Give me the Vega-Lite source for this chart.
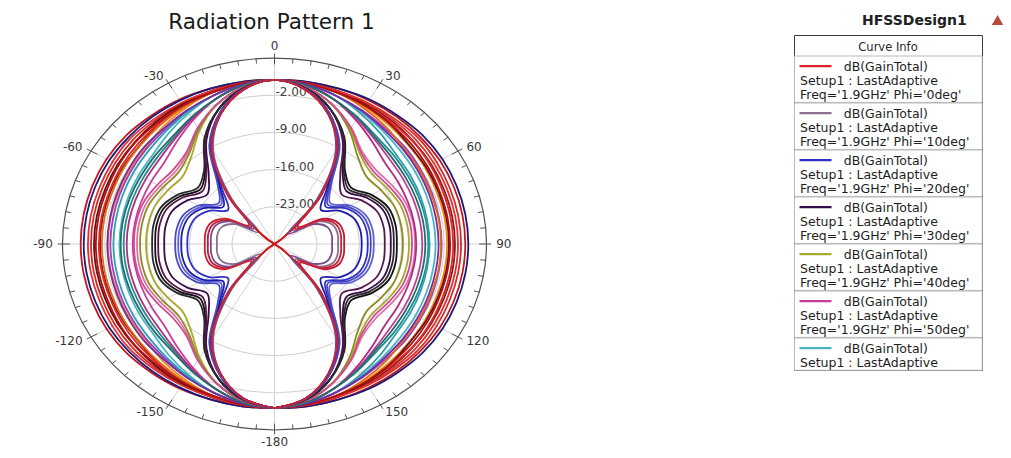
{
  "$schema": "https://vega.github.io/schema/vega-lite/v6.json",
  "width": 1011,
  "height": 458,
  "autosize": {"type": "none"},
  "padding": 0,
  "background": "white",
  "config": {"view": {"stroke": null}, "font": "DejaVu Sans"},
  "title": {
    "text": "Radiation Pattern 1",
    "frame": "group",
    "anchor": "middle",
    "dx": -234,
    "offset": -33,
    "font": "DejaVu Sans",
    "fontSize": 21.5,
    "fontWeight": "normal",
    "color": "#1a1a1a"
  },
  "datasets": {
    "rings": [
      {"level": -23, "theta": [-180,-170,-160,-150,-140,-130,-120,-110,-100,-90,-80,-70,-60,-50,-40,-30,-20,-10,0,10,20,30,40,50,60,70,80,90,100,110,120,130,140,150,160,170,180]},
      {"level": -16, "theta": [-180,-170,-160,-150,-140,-130,-120,-110,-100,-90,-80,-70,-60,-50,-40,-30,-20,-10,0,10,20,30,40,50,60,70,80,90,100,110,120,130,140,150,160,170,180]},
      {"level": -9, "theta": [-180,-170,-160,-150,-140,-130,-120,-110,-100,-90,-80,-70,-60,-50,-40,-30,-20,-10,0,10,20,30,40,50,60,70,80,90,100,110,120,130,140,150,160,170,180]},
      {"level": -2, "theta": [-180,-170,-160,-150,-140,-130,-120,-110,-100,-90,-80,-70,-60,-50,-40,-30,-20,-10,0,10,20,30,40,50,60,70,80,90,100,110,120,130,140,150,160,170,180]},
      {"level": 5, "theta": [-180,-170,-160,-150,-140,-130,-120,-110,-100,-90,-80,-70,-60,-50,-40,-30,-20,-10,0,10,20,30,40,50,60,70,80,90,100,110,120,130,140,150,160,170,180]}
    ],
    "spokes": [{"theta": 0}, {"theta": 30}, {"theta": 60}, {"theta": 90}, {"theta": 120}, {"theta": 150}],
    "ticks": [
      {"theta": -175},{"theta": -170},{"theta": -165},{"theta": -160},{"theta": -155},{"theta": -150},{"theta": -145},{"theta": -140},{"theta": -135},{"theta": -130},{"theta": -125},{"theta": -120},
      {"theta": -115},{"theta": -110},{"theta": -105},{"theta": -100},{"theta": -95},{"theta": -90},{"theta": -85},{"theta": -80},{"theta": -75},{"theta": -70},{"theta": -65},{"theta": -60},
      {"theta": -55},{"theta": -50},{"theta": -45},{"theta": -40},{"theta": -35},{"theta": -30},{"theta": -25},{"theta": -20},{"theta": -15},{"theta": -10},{"theta": -5},{"theta": 0},
      {"theta": 5},{"theta": 10},{"theta": 15},{"theta": 20},{"theta": 25},{"theta": 30},{"theta": 35},{"theta": 40},{"theta": 45},{"theta": 50},{"theta": 55},{"theta": 60},
      {"theta": 65},{"theta": 70},{"theta": 75},{"theta": 80},{"theta": 85},{"theta": 90},{"theta": 95},{"theta": 100},{"theta": 105},{"theta": 110},{"theta": 115},{"theta": 120},
      {"theta": 125},{"theta": 130},{"theta": 135},{"theta": 140},{"theta": 145},{"theta": 150},{"theta": 155},{"theta": 160},{"theta": 165},{"theta": 170},{"theta": 175},{"theta": 180}
    ],
    "angleLabels": [{"theta": -180},{"theta": -150},{"theta": -120},{"theta": -90},{"theta": -60},{"theta": -30},{"theta": 0},{"theta": 30},{"theta": 60},{"theta": 90},{"theta": 120},{"theta": 150}],
    "radialLabels": [{"gain": -2, "label": "-2.00"}, {"gain": -9, "label": "-9.00"}, {"gain": -16, "label": "-16.00"}, {"gain": -23, "label": "-23.00"}],
    "curves": [
      {"phi": "Phi0", "design": "HFSSDesign1", "theta": [-180,-170,-160,-150,-140,-130,-120,-110,-100,-90,-80,-70,-60,-50,-40,-30,-20,-10,0,10,20,30,40,50,60,70,80,90,100,110,120,130,140,150,160,170,180], "gain": [0.9,-0.5,-4,-9.5,-19,-28,-35,-35,-35,-35,-35,-35,-35,-27.5,-19,-9.5,-4,-0.5,0.9,-0.5,-4,-9.5,-19,-28,-35,-35,-35,-35,-35,-35,-35,-27.5,-19,-9.5,-4,-0.5,0.9]},
      {"phi": "Phi10", "design": "HFSSDesign1", "theta": [-180,-170,-160,-150,-140,-130,-120,-110,-100,-90,-80,-70,-60,-50,-40,-30,-20,-10,0,10,20,30,40,50,60,70,80,90,100,110,120,130,140,150,160,170,180], "gain": [0.9,-0.5,-4,-9.8,-19.1,-27,-22.5,-20.7,-20.4,-20.5,-20.4,-20.7,-22.5,-26.5,-19.1,-9.8,-4,-0.5,0.9,-0.5,-4,-9.5,-18.5,-26,-21.5,-19.7,-19.4,-19.5,-19.4,-19.7,-21.5,-25.5,-18.5,-9.5,-4,-0.5,0.9]},
      {"phi": "Phi20", "design": "HFSSDesign1", "theta": [-180,-170,-160,-150,-140,-130,-120,-110,-100,-90,-80,-70,-60,-50,-40,-30,-20,-10,0,10,20,30,40,50,60,70,80,90,100,110,120,130,140,150,160,170,180], "gain": [0.9,-0.4,-3.7,-9.1,-16.6,-20,-17.5,-16,-15.6,-15.6,-15.6,-16,-17.5,-20,-16.6,-9.1,-3.7,-0.4,0.9,-0.4,-3.7,-8.8,-16,-19,-16.5,-15,-14.6,-14.6,-14.6,-15,-16.5,-19,-16,-8.8,-3.7,-0.4,0.9]},
      {"phi": "Phi30", "design": "HFSSDesign1", "theta": [-180,-170,-160,-150,-140,-130,-120,-110,-100,-90,-80,-70,-60,-50,-40,-30,-20,-10,0,10,20,30,40,50,60,70,80,90,100,110,120,130,140,150,160,170,180], "gain": [0.9,-0.2,-3,-7.5,-13.1,-15.5,-13.5,-12,-11.7,-11.8,-11.7,-12,-13.5,-15.5,-13.1,-7.5,-3,-0.2,0.9,-0.2,-3,-7.2,-12.5,-14.5,-12.5,-11,-10.7,-10.8,-10.7,-11,-12.5,-14.5,-12.5,-7.2,-3,-0.2,0.9]},
      {"phi": "Phi40", "design": "HFSSDesign1", "theta": [-180,-170,-160,-150,-140,-130,-120,-110,-100,-90,-80,-70,-60,-50,-40,-30,-20,-10,0,10,20,30,40,50,60,70,80,90,100,110,120,130,140,150,160,170,180], "gain": [0.9,0,-2.1,-5.3,-8.6,-10.2,-9.7,-9,-8.8,-8.8,-8.8,-9,-9.7,-10.2,-8.6,-5.3,-2.1,0,0.9,0,-2.1,-5,-8,-9.2,-8.7,-8,-7.8,-7.8,-7.8,-8,-8.7,-9.2,-8,-5,-2.1,0,0.9]},
      {"phi": "Phi50", "design": "HFSSDesign1", "theta": [-180,-170,-160,-150,-140,-130,-120,-110,-100,-90,-80,-70,-60,-50,-40,-30,-20,-10,0,10,20,30,40,50,60,70,80,90,100,110,120,130,140,150,160,170,180], "gain": [0.9,0.3,-1.1,-3.1,-4.9,-6.2,-6.5,-6.6,-6.6,-6.6,-6.6,-6.6,-6.5,-6.2,-4.9,-3.1,-1.1,0.3,0.9,0.3,-1.1,-2.8,-4.3,-5.2,-5.5,-5.6,-5.6,-5.6,-5.6,-5.6,-5.5,-5.2,-4.3,-2.8,-1.1,0.3,0.9]},
      {"phi": "Phi60", "design": "HFSSDesign1", "theta": [-180,-170,-160,-150,-140,-130,-120,-110,-100,-90,-80,-70,-60,-50,-40,-30,-20,-10,0,10,20,30,40,50,60,70,80,90,100,110,120,130,140,150,160,170,180], "gain": [0.9,0.5,-0.3,-1.6,-2.8,-3.8,-4.1,-4.3,-4.4,-4.4,-4.4,-4.3,-4.1,-3.8,-2.8,-1.6,-0.3,0.5,0.9,0.5,-0.3,-1.3,-2.2,-2.8,-3.1,-3.3,-3.4,-3.4,-3.4,-3.3,-3.1,-2.8,-2.2,-1.3,-0.3,0.5,0.9]},
      {"phi": "Phi70", "design": "HFSSDesign1", "theta": [-180,-170,-160,-150,-140,-130,-120,-110,-100,-90,-80,-70,-60,-50,-40,-30,-20,-10,0,10,20,30,40,50,60,70,80,90,100,110,120,130,140,150,160,170,180], "gain": [0.9,0.7,0.3,-0.5,-1.3,-2.1,-2.3,-2.5,-2.5,-2.5,-2.5,-2.5,-2.3,-2.1,-1.3,-0.5,0.3,0.7,0.9,0.7,0.3,-0.2,-0.7,-1.1,-1.3,-1.5,-1.5,-1.5,-1.5,-1.5,-1.3,-1.1,-0.7,-0.2,0.3,0.7,0.9]},
      {"phi": "Phi80", "design": "HFSSDesign1", "theta": [-180,-170,-160,-150,-140,-130,-120,-110,-100,-90,-80,-70,-60,-50,-40,-30,-20,-10,0,10,20,30,40,50,60,70,80,90,100,110,120,130,140,150,160,170,180], "gain": [0.9,0.8,0.6,0.1,-0.4,-1,-1.1,-1.2,-1.2,-1.2,-1.2,-1.2,-1.1,-1,-0.4,0.1,0.6,0.8,0.9,0.8,0.6,0.4,0.2,0,-0.1,-0.2,-0.2,-0.2,-0.2,-0.2,-0.1,0,0.2,0.4,0.6,0.8,0.9]},
      {"phi": "Phi90", "design": "HFSSDesign1", "theta": [-180,-170,-160,-150,-140,-130,-120,-110,-100,-90,-80,-70,-60,-50,-40,-30,-20,-10,0,10,20,30,40,50,60,70,80,90,100,110,120,130,140,150,160,170,180], "gain": [0.9,1,1.1,1.4,1.6,1.9,2,2,2,2,2,2,2,1.9,1.6,1.4,1.1,1,0.9,1,1.1,1.2,1.3,1.4,1.5,1.5,1.5,1.5,1.5,1.5,1.5,1.4,1.3,1.2,1.1,1,0.9]},
      {"phi": "Phi100", "design": "HFSSDesign1", "theta": [-180,-170,-160,-150,-140,-130,-120,-110,-100,-90,-80,-70,-60,-50,-40,-30,-20,-10,0,10,20,30,40,50,60,70,80,90,100,110,120,130,140,150,160,170,180], "gain": [0.9,0.8,0.6,0.6,0.5,0.5,0.4,0.3,0.3,0.3,0.3,0.3,0.4,0.5,0.5,0.6,0.6,0.8,0.9,0.8,0.6,0.7,0.8,1,0.9,0.8,0.8,0.8,0.8,0.8,0.9,1,0.8,0.7,0.6,0.8,0.9]},
      {"phi": "Phi110", "design": "HFSSDesign1", "theta": [-180,-170,-160,-150,-140,-130,-120,-110,-100,-90,-80,-70,-60,-50,-40,-30,-20,-10,0,10,20,30,40,50,60,70,80,90,100,110,120,130,140,150,160,170,180], "gain": [0.9,0.7,0.3,0,-0.4,-0.6,-0.8,-1,-1,-1,-1,-1,-0.8,-0.6,-0.4,0,0.3,0.7,0.9,0.7,0.3,0.1,-0.1,-0.1,-0.3,-0.5,-0.5,-0.5,-0.5,-0.5,-0.3,-0.1,-0.1,0.1,0.3,0.7,0.9]},
      {"phi": "Phi120", "design": "HFSSDesign1", "theta": [-180,-170,-160,-150,-140,-130,-120,-110,-100,-90,-80,-70,-60,-50,-40,-30,-20,-10,0,10,20,30,40,50,60,70,80,90,100,110,120,130,140,150,160,170,180], "gain": [0.9,0.5,-0.3,-1.1,-1.9,-2.3,-2.6,-2.8,-2.9,-2.9,-2.9,-2.8,-2.6,-2.3,-1.9,-1.1,-0.3,0.5,0.9,0.5,-0.3,-1,-1.6,-1.8,-2.1,-2.3,-2.4,-2.4,-2.4,-2.3,-2.1,-1.8,-1.6,-1,-0.3,0.5,0.9]},
      {"phi": "Phi130", "design": "HFSSDesign1", "theta": [-180,-170,-160,-150,-140,-130,-120,-110,-100,-90,-80,-70,-60,-50,-40,-30,-20,-10,0,10,20,30,40,50,60,70,80,90,100,110,120,130,140,150,160,170,180], "gain": [0.9,0.3,-1.1,-2.6,-4,-4.7,-5,-5.1,-5.1,-5.1,-5.1,-5.1,-5,-4.7,-4,-2.6,-1.1,0.3,0.9,0.3,-1.1,-2.5,-3.7,-4.2,-4.5,-4.6,-4.6,-4.6,-4.6,-4.6,-4.5,-4.2,-3.7,-2.5,-1.1,0.3,0.9]},
      {"phi": "Phi140", "design": "HFSSDesign1", "theta": [-180,-170,-160,-150,-140,-130,-120,-110,-100,-90,-80,-70,-60,-50,-40,-30,-20,-10,0,10,20,30,40,50,60,70,80,90,100,110,120,130,140,150,160,170,180], "gain": [0.9,0,-2.1,-4.8,-7.7,-8.7,-8.2,-7.5,-7.3,-7.3,-7.3,-7.5,-8.2,-8.7,-7.7,-4.8,-2.1,0,0.9,0,-2.1,-4.7,-7.4,-8.2,-7.7,-7,-6.8,-6.8,-6.8,-7,-7.7,-8.2,-7.4,-4.7,-2.1,0,0.9]},
      {"phi": "Phi150", "design": "HFSSDesign1", "theta": [-180,-170,-160,-150,-140,-130,-120,-110,-100,-90,-80,-70,-60,-50,-40,-30,-20,-10,0,10,20,30,40,50,60,70,80,90,100,110,120,130,140,150,160,170,180], "gain": [0.9,-0.2,-3,-7,-12.2,-14,-12,-10.5,-10.2,-10.3,-10.2,-10.5,-12,-14,-12.2,-7,-3,-0.2,0.9,-0.2,-3,-6.9,-11.9,-13.5,-11.5,-10,-9.7,-9.8,-9.7,-10,-11.5,-13.5,-11.9,-6.9,-3,-0.2,0.9]},
      {"phi": "Phi160", "design": "HFSSDesign1", "theta": [-180,-170,-160,-150,-140,-130,-120,-110,-100,-90,-80,-70,-60,-50,-40,-30,-20,-10,0,10,20,30,40,50,60,70,80,90,100,110,120,130,140,150,160,170,180], "gain": [0.9,-0.4,-3.7,-8.6,-15.7,-18.5,-16,-14.5,-14.1,-14.1,-14.1,-14.5,-16,-18.5,-15.7,-8.6,-3.7,-0.4,0.9,-0.4,-3.7,-8.5,-15.4,-18,-15.5,-14,-13.6,-13.6,-13.6,-14,-15.5,-18,-15.4,-8.5,-3.7,-0.4,0.9]},
      {"phi": "Phi170", "design": "HFSSDesign1", "theta": [-180,-170,-160,-150,-140,-130,-120,-110,-100,-90,-80,-70,-60,-50,-40,-30,-20,-10,0,10,20,30,40,50,60,70,80,90,100,110,120,130,140,150,160,170,180], "gain": [0.9,-0.5,-4,-9.3,-18.2,-25.5,-21,-19.2,-18.9,-19,-18.9,-19.2,-21,-25,-18.2,-9.3,-4,-0.5,0.9,-0.5,-4,-9.2,-17.9,-25,-20.5,-18.7,-18.4,-18.5,-18.4,-18.7,-20.5,-24.5,-17.9,-9.2,-4,-0.5,0.9]},
      {"phi": "Phi180", "design": "HFSSDesign1", "theta": [-180,-170,-160,-150,-140,-130,-120,-110,-100,-90,-80,-70,-60,-50,-40,-30,-20,-10,0,10,20,30,40,50,60,70,80,90,100,110,120,130,140,150,160,170,180], "gain": [0.9,-0.5,-4,-9.2,-18.5,-28,-35,-35,-35,-35,-35,-35,-35,-27.5,-18.5,-9.2,-4,-0.5,0.9,-0.5,-4,-9.2,-18.5,-28,-35,-35,-35,-35,-35,-35,-35,-27.5,-18.5,-9.2,-4,-0.5,0.9]},
      {"phi": "Phi190", "design": "HFSSDesign1", "theta": [-180,-170,-160,-150,-140,-130,-120,-110,-100,-90,-80,-70,-60,-50,-40,-30,-20,-10,0,10,20,30,40,50,60,70,80,90,100,110,120,130,140,150,160,170,180], "gain": [0.9,-0.5,-4,-9.5,-18.5,-26,-21.5,-19.7,-19.4,-19.5,-19.4,-19.7,-21.5,-25.5,-18.5,-9.5,-4,-0.5,0.9,-0.5,-4,-9.8,-19.1,-27,-22.5,-20.7,-20.4,-20.5,-20.4,-20.7,-22.5,-26.5,-19.1,-9.8,-4,-0.5,0.9]},
      {"phi": "Phi200", "design": "HFSSDesign1", "theta": [-180,-170,-160,-150,-140,-130,-120,-110,-100,-90,-80,-70,-60,-50,-40,-30,-20,-10,0,10,20,30,40,50,60,70,80,90,100,110,120,130,140,150,160,170,180], "gain": [0.9,-0.4,-3.7,-8.8,-16,-19,-16.5,-15,-14.6,-14.6,-14.6,-15,-16.5,-19,-16,-8.8,-3.7,-0.4,0.9,-0.4,-3.7,-9.1,-16.6,-20,-17.5,-16,-15.6,-15.6,-15.6,-16,-17.5,-20,-16.6,-9.1,-3.7,-0.4,0.9]},
      {"phi": "Phi210", "design": "HFSSDesign1", "theta": [-180,-170,-160,-150,-140,-130,-120,-110,-100,-90,-80,-70,-60,-50,-40,-30,-20,-10,0,10,20,30,40,50,60,70,80,90,100,110,120,130,140,150,160,170,180], "gain": [0.9,-0.2,-3,-7.2,-12.5,-14.5,-12.5,-11,-10.7,-10.8,-10.7,-11,-12.5,-14.5,-12.5,-7.2,-3,-0.2,0.9,-0.2,-3,-7.5,-13.1,-15.5,-13.5,-12,-11.7,-11.8,-11.7,-12,-13.5,-15.5,-13.1,-7.5,-3,-0.2,0.9]},
      {"phi": "Phi220", "design": "HFSSDesign1", "theta": [-180,-170,-160,-150,-140,-130,-120,-110,-100,-90,-80,-70,-60,-50,-40,-30,-20,-10,0,10,20,30,40,50,60,70,80,90,100,110,120,130,140,150,160,170,180], "gain": [0.9,0,-2.1,-5,-8,-9.2,-8.7,-8,-7.8,-7.8,-7.8,-8,-8.7,-9.2,-8,-5,-2.1,0,0.9,0,-2.1,-5.3,-8.6,-10.2,-9.7,-9,-8.8,-8.8,-8.8,-9,-9.7,-10.2,-8.6,-5.3,-2.1,0,0.9]},
      {"phi": "Phi230", "design": "HFSSDesign1", "theta": [-180,-170,-160,-150,-140,-130,-120,-110,-100,-90,-80,-70,-60,-50,-40,-30,-20,-10,0,10,20,30,40,50,60,70,80,90,100,110,120,130,140,150,160,170,180], "gain": [0.9,0.3,-1.1,-2.8,-4.3,-5.2,-5.5,-5.6,-5.6,-5.6,-5.6,-5.6,-5.5,-5.2,-4.3,-2.8,-1.1,0.3,0.9,0.3,-1.1,-3.1,-4.9,-6.2,-6.5,-6.6,-6.6,-6.6,-6.6,-6.6,-6.5,-6.2,-4.9,-3.1,-1.1,0.3,0.9]},
      {"phi": "Phi240", "design": "HFSSDesign1", "theta": [-180,-170,-160,-150,-140,-130,-120,-110,-100,-90,-80,-70,-60,-50,-40,-30,-20,-10,0,10,20,30,40,50,60,70,80,90,100,110,120,130,140,150,160,170,180], "gain": [0.9,0.5,-0.3,-1.3,-2.2,-2.8,-3.1,-3.3,-3.4,-3.4,-3.4,-3.3,-3.1,-2.8,-2.2,-1.3,-0.3,0.5,0.9,0.5,-0.3,-1.6,-2.8,-3.8,-4.1,-4.3,-4.4,-4.4,-4.4,-4.3,-4.1,-3.8,-2.8,-1.6,-0.3,0.5,0.9]},
      {"phi": "Phi250", "design": "HFSSDesign1", "theta": [-180,-170,-160,-150,-140,-130,-120,-110,-100,-90,-80,-70,-60,-50,-40,-30,-20,-10,0,10,20,30,40,50,60,70,80,90,100,110,120,130,140,150,160,170,180], "gain": [0.9,0.7,0.3,-0.2,-0.7,-1.1,-1.3,-1.5,-1.5,-1.5,-1.5,-1.5,-1.3,-1.1,-0.7,-0.2,0.3,0.7,0.9,0.7,0.3,-0.5,-1.3,-2.1,-2.3,-2.5,-2.5,-2.5,-2.5,-2.5,-2.3,-2.1,-1.3,-0.5,0.3,0.7,0.9]},
      {"phi": "Phi260", "design": "HFSSDesign1", "theta": [-180,-170,-160,-150,-140,-130,-120,-110,-100,-90,-80,-70,-60,-50,-40,-30,-20,-10,0,10,20,30,40,50,60,70,80,90,100,110,120,130,140,150,160,170,180], "gain": [0.9,0.8,0.6,0.4,0.2,0,-0.1,-0.2,-0.2,-0.2,-0.2,-0.2,-0.1,0,0.2,0.4,0.6,0.8,0.9,0.8,0.6,0.1,-0.4,-1,-1.1,-1.2,-1.2,-1.2,-1.2,-1.2,-1.1,-1,-0.4,0.1,0.6,0.8,0.9]},
      {"phi": "Phi270", "design": "HFSSDesign1", "theta": [-180,-170,-160,-150,-140,-130,-120,-110,-100,-90,-80,-70,-60,-50,-40,-30,-20,-10,0,10,20,30,40,50,60,70,80,90,100,110,120,130,140,150,160,170,180], "gain": [0.9,1,1.1,1.2,1.3,1.4,1.5,1.5,1.5,1.5,1.5,1.5,1.5,1.4,1.3,1.2,1.1,1,0.9,1,1.1,1.4,1.6,1.9,2,2,2,2,2,2,2,1.9,1.6,1.4,1.1,1,0.9]},
      {"phi": "Phi280", "design": "HFSSDesign1", "theta": [-180,-170,-160,-150,-140,-130,-120,-110,-100,-90,-80,-70,-60,-50,-40,-30,-20,-10,0,10,20,30,40,50,60,70,80,90,100,110,120,130,140,150,160,170,180], "gain": [0.9,0.8,0.6,0.7,0.8,1,0.9,0.8,0.8,0.8,0.8,0.8,0.9,1,0.8,0.7,0.6,0.8,0.9,0.8,0.6,0.6,0.5,0.5,0.4,0.3,0.3,0.3,0.3,0.3,0.4,0.5,0.5,0.6,0.6,0.8,0.9]},
      {"phi": "Phi290", "design": "HFSSDesign1", "theta": [-180,-170,-160,-150,-140,-130,-120,-110,-100,-90,-80,-70,-60,-50,-40,-30,-20,-10,0,10,20,30,40,50,60,70,80,90,100,110,120,130,140,150,160,170,180], "gain": [0.9,0.7,0.3,0.1,-0.1,-0.1,-0.3,-0.5,-0.5,-0.5,-0.5,-0.5,-0.3,-0.1,-0.1,0.1,0.3,0.7,0.9,0.7,0.3,0,-0.4,-0.6,-0.8,-1,-1,-1,-1,-1,-0.8,-0.6,-0.4,0,0.3,0.7,0.9]},
      {"phi": "Phi300", "design": "HFSSDesign1", "theta": [-180,-170,-160,-150,-140,-130,-120,-110,-100,-90,-80,-70,-60,-50,-40,-30,-20,-10,0,10,20,30,40,50,60,70,80,90,100,110,120,130,140,150,160,170,180], "gain": [0.9,0.5,-0.3,-1,-1.6,-1.8,-2.1,-2.3,-2.4,-2.4,-2.4,-2.3,-2.1,-1.8,-1.6,-1,-0.3,0.5,0.9,0.5,-0.3,-1.1,-1.9,-2.3,-2.6,-2.8,-2.9,-2.9,-2.9,-2.8,-2.6,-2.3,-1.9,-1.1,-0.3,0.5,0.9]},
      {"phi": "Phi310", "design": "HFSSDesign1", "theta": [-180,-170,-160,-150,-140,-130,-120,-110,-100,-90,-80,-70,-60,-50,-40,-30,-20,-10,0,10,20,30,40,50,60,70,80,90,100,110,120,130,140,150,160,170,180], "gain": [0.9,0.3,-1.1,-2.5,-3.7,-4.2,-4.5,-4.6,-4.6,-4.6,-4.6,-4.6,-4.5,-4.2,-3.7,-2.5,-1.1,0.3,0.9,0.3,-1.1,-2.6,-4,-4.7,-5,-5.1,-5.1,-5.1,-5.1,-5.1,-5,-4.7,-4,-2.6,-1.1,0.3,0.9]},
      {"phi": "Phi320", "design": "HFSSDesign1", "theta": [-180,-170,-160,-150,-140,-130,-120,-110,-100,-90,-80,-70,-60,-50,-40,-30,-20,-10,0,10,20,30,40,50,60,70,80,90,100,110,120,130,140,150,160,170,180], "gain": [0.9,0,-2.1,-4.7,-7.4,-8.2,-7.7,-7,-6.8,-6.8,-6.8,-7,-7.7,-8.2,-7.4,-4.7,-2.1,0,0.9,0,-2.1,-4.8,-7.7,-8.7,-8.2,-7.5,-7.3,-7.3,-7.3,-7.5,-8.2,-8.7,-7.7,-4.8,-2.1,0,0.9]},
      {"phi": "Phi330", "design": "HFSSDesign1", "theta": [-180,-170,-160,-150,-140,-130,-120,-110,-100,-90,-80,-70,-60,-50,-40,-30,-20,-10,0,10,20,30,40,50,60,70,80,90,100,110,120,130,140,150,160,170,180], "gain": [0.9,-0.2,-3,-6.9,-11.9,-13.5,-11.5,-10,-9.7,-9.8,-9.7,-10,-11.5,-13.5,-11.9,-6.9,-3,-0.2,0.9,-0.2,-3,-7,-12.2,-14,-12,-10.5,-10.2,-10.3,-10.2,-10.5,-12,-14,-12.2,-7,-3,-0.2,0.9]},
      {"phi": "Phi340", "design": "HFSSDesign1", "theta": [-180,-170,-160,-150,-140,-130,-120,-110,-100,-90,-80,-70,-60,-50,-40,-30,-20,-10,0,10,20,30,40,50,60,70,80,90,100,110,120,130,140,150,160,170,180], "gain": [0.9,-0.4,-3.7,-8.5,-15.4,-18,-15.5,-14,-13.6,-13.6,-13.6,-14,-15.5,-18,-15.4,-8.5,-3.7,-0.4,0.9,-0.4,-3.7,-8.6,-15.7,-18.5,-16,-14.5,-14.1,-14.1,-14.1,-14.5,-16,-18.5,-15.7,-8.6,-3.7,-0.4,0.9]},
      {"phi": "Phi350", "design": "HFSSDesign1", "theta": [-180,-170,-160,-150,-140,-130,-120,-110,-100,-90,-80,-70,-60,-50,-40,-30,-20,-10,0,10,20,30,40,50,60,70,80,90,100,110,120,130,140,150,160,170,180], "gain": [0.9,-0.5,-4,-9.2,-17.9,-25,-20.5,-18.7,-18.4,-18.5,-18.4,-18.7,-20.5,-24.5,-17.9,-9.2,-4,-0.5,0.9,-0.5,-4,-9.3,-18.2,-25.5,-21,-19.2,-18.9,-19,-18.9,-19.2,-21,-25,-18.2,-9.3,-4,-0.5,0.9]}
    ]
  },
  "encoding": {
    "x": {"field": "px", "type": "quantitative", "scale": {"domain": [-45.32, 121.6], "nice": false, "zero": false}, "axis": null},
    "y": {"field": "py", "type": "quantitative", "scale": {"domain": [-40.27, 45.92], "nice": false, "zero": false}, "axis": null}
  },
  "layer": [
    {
      "data": {"values": [{}]},
      "mark": {"type": "rule", "color": "#adadad", "strokeWidth": 2},
      "encoding": {"x": {"datum": -45.32}, "x2": {"datum": 121.6}, "y": {"datum": 45.26}}
    },
    {
      "data": {"name": "rings"},
      "transform": [
        {"filter": "datum.level < 5"},
        {"flatten": ["theta"]},
        {"calculate": "datum.level + 30", "as": "r"},
        {"calculate": "datum.r * sin(datum.theta * PI / 180)", "as": "px"},
        {"calculate": "datum.r * cos(datum.theta * PI / 180)", "as": "py"}
      ],
      "mark": {"type": "line", "interpolate": "catmull-rom", "color": "#cdcdcd", "strokeWidth": 1},
      "encoding": {"detail": {"field": "level", "type": "nominal"}, "order": {"field": "theta", "type": "quantitative"}}
    },
    {
      "data": {"name": "spokes"},
      "transform": [
        {"calculate": "35 * sin(datum.theta * PI / 180)", "as": "px"},
        {"calculate": "35 * cos(datum.theta * PI / 180)", "as": "py"},
        {"calculate": "-datum.px", "as": "px2"},
        {"calculate": "-datum.py", "as": "py2"}
      ],
      "mark": {"type": "rule", "color": "#d2d2d2", "strokeWidth": 1},
      "encoding": {"x2": {"field": "px2"}, "y2": {"field": "py2"}}
    },
    {
      "data": {"name": "radialLabels"},
      "transform": [
        {"calculate": "0", "as": "px"},
        {"calculate": "datum.gain + 30", "as": "py"}
      ],
      "mark": {"type": "text", "align": "left", "baseline": "middle", "dx": 1, "dy": -3, "font": "DejaVu Sans", "fontSize": 12, "color": "#404040"},
      "encoding": {"text": {"field": "label", "type": "nominal"}}
    },
    {
      "data": {"name": "curves"},
      "transform": [
        {"flatten": ["theta", "gain"]},
        {"calculate": "max(0, datum.gain + 30)", "as": "r"},
        {"calculate": "datum.r * sin(datum.theta * PI / 180)", "as": "px"},
        {"calculate": "datum.r * cos(datum.theta * PI / 180)", "as": "py"}
      ],
      "mark": {"type": "line", "interpolate": "catmull-rom"},
      "encoding": {
        "order": {"field": "theta", "type": "quantitative"},
        "color": {
          "field": "phi",
          "type": "nominal",
          "scale": {
            "domain": ["Phi0","Phi10","Phi20","Phi30","Phi40","Phi50","Phi60","Phi70","Phi80","Phi90","Phi100","Phi110","Phi120","Phi130","Phi140","Phi150","Phi160","Phi170","Phi180","Phi190","Phi200","Phi210","Phi220","Phi230","Phi240","Phi250","Phi260","Phi270","Phi280","Phi290","Phi300","Phi310","Phi320","Phi330","Phi340","Phi350"],
            "range": ["#e0202a","#8a7090","#3030c8","#3a0a48","#a9a92a","#c83c98","#48b4c4","#f0881e","#8a1a1a","#c0181e","#d42a2a","#e02828","#9b3fc0","#2a8a8a","#e070a8","#141414","#6060d8","#b81c3c","#c81818","#7a4c8c","#1c1ca8","#5a1450","#8c8c20","#b02c84","#2aa0b0","#e06a10","#6a0e0e","#1a1a7a","#e03030","#b01010","#7a2aa0","#1f6f6f","#d04a90","#2a2a2a","#4a4ac0","#d02030"]
          },
          "legend": {
            "orient": "none",
            "legendX": 794,
            "legendY": 35,
            "values": ["Phi0","Phi10","Phi20","Phi30","Phi40","Phi50","Phi60"],
            "title": "Curve Info",
            "titleAnchor": "middle",
            "titleFont": "DejaVu Sans",
            "titleFontSize": 11.5,
            "titleFontWeight": "normal",
            "titleColor": "#2a2a2a",
            "titlePadding": 9,
            "symbolType": "stroke",
            "symbolSize": 1024,
            "symbolStrokeWidth": 2.2,
            "symbolOffset": 4,
            "labelFont": "DejaVu Sans",
            "labelFontSize": 12.5,
            "labelColor": "#1e1e1e",
            "labelOffset": -33,
            "labelLimit": 400,
            "labelBaseline": "alphabetic",
            "labelExpr": "datum.value == 'Phi60' ? ['\u200b\u00a0\u00a0\u00a0\u00a0\u00a0\u00a0\u00a0\u00a0\u00a0\u00a0\u00a0dB(GainTotal)', 'Setup1 : LastAdaptive'] : ['\u200b\u00a0\u00a0\u00a0\u00a0\u00a0\u00a0\u00a0\u00a0\u00a0\u00a0\u00a0dB(GainTotal)', 'Setup1 : LastAdaptive', \"Freq='1.9GHz' Phi='\" + replace(datum.value, 'Phi', '') + \"deg'\u00a0\u00a0\u00a0\u200b\"]",
            "rowPadding": 0,
            "strokeColor": "#3c3c3c",
            "fillColor": "white",
            "padding": 0,
            "encoding": {
              "title": {"dy": {"value": 7}},
              "symbols": {"y": {"value": 10.7}},
              "labels": {"y": {"value": 10.7}, "dy": {"value": 4.5}, "lineHeight": {"value": 14.1}},
              "entries": {"stroke": {"value": "#b9b9b9"}, "strokeWidth": {"value": 1}, "width": {"value": 197}, "height": {"value": 47}}
            }
          }
        },
        "strokeWidth": {
          "field": "design",
          "type": "ordinal",
          "scale": {"range": [1.8, 1.8]},
          "legend": {
            "orient": "none",
            "legendX": 862,
            "legendY": 15,
            "title": "HFSSDesign1",
            "titleOrient": "left",
            "titleFont": "DejaVu Sans",
            "titleFontSize": 14,
            "titleFontWeight": "bold",
            "titleColor": "#222222",
            "titlePadding": 25,
            "symbolType": "triangle-up",
            "symbolSize": 70,
            "symbolFillColor": "#b64a3c",
            "symbolStrokeColor": "#b64a3c",
            "labelExpr": "''",
            "padding": 0,
            "encoding": {"symbols": {"fill": {"value": "#b64a3c"}, "stroke": {"value": "#b64a3c"}}}
          }
        }
      }
    },
    {
      "data": {"name": "rings"},
      "transform": [
        {"filter": "datum.level == 5"},
        {"flatten": ["theta"]},
        {"calculate": "datum.level + 30", "as": "r"},
        {"calculate": "datum.r * sin(datum.theta * PI / 180)", "as": "px"},
        {"calculate": "datum.r * cos(datum.theta * PI / 180)", "as": "py"}
      ],
      "mark": {"type": "line", "interpolate": "catmull-rom", "color": "#505050", "strokeWidth": 1.2},
      "encoding": {"order": {"field": "theta", "type": "quantitative"}}
    },
    {
      "data": {"name": "ticks"},
      "transform": [
        {"calculate": "datum.theta % 30 == 0 ? 33.8 : 34.1", "as": "r1"},
        {"calculate": "datum.theta % 30 == 0 ? 35.8 : 35", "as": "r2"},
        {"calculate": "datum.r1 * sin(datum.theta * PI / 180)", "as": "px"},
        {"calculate": "datum.r1 * cos(datum.theta * PI / 180)", "as": "py"},
        {"calculate": "datum.r2 * sin(datum.theta * PI / 180)", "as": "px2"},
        {"calculate": "datum.r2 * cos(datum.theta * PI / 180)", "as": "py2"}
      ],
      "mark": {"type": "rule", "color": "#505050", "strokeWidth": 1},
      "encoding": {"x2": {"field": "px2"}, "y2": {"field": "py2"}}
    },
    {
      "data": {"name": "angleLabels"},
      "transform": [
        {"filter": "datum.theta > 0 && datum.theta < 180"},
        {"calculate": "36.6 * sin(datum.theta * PI / 180)", "as": "px"},
        {"calculate": "36.6 * cos(datum.theta * PI / 180)", "as": "py"}
      ],
      "mark": {"type": "text", "align": "left", "baseline": "middle", "font": "DejaVu Sans", "fontSize": 12, "color": "#383838"},
      "encoding": {"text": {"field": "theta", "type": "nominal"}}
    },
    {
      "data": {"name": "angleLabels"},
      "transform": [
        {"filter": "datum.theta < 0 && datum.theta > -180"},
        {"calculate": "36.6 * sin(datum.theta * PI / 180)", "as": "px"},
        {"calculate": "36.6 * cos(datum.theta * PI / 180)", "as": "py"}
      ],
      "mark": {"type": "text", "align": "right", "baseline": "middle", "font": "DejaVu Sans", "fontSize": 12, "color": "#383838"},
      "encoding": {"text": {"field": "theta", "type": "nominal"}}
    },
    {
      "data": {"name": "angleLabels"},
      "transform": [
        {"filter": "datum.theta == 0 || datum.theta == -180"},
        {"calculate": "37.3 * sin(datum.theta * PI / 180)", "as": "px"},
        {"calculate": "37.3 * cos(datum.theta * PI / 180)", "as": "py"}
      ],
      "mark": {"type": "text", "align": "center", "baseline": "middle", "font": "DejaVu Sans", "fontSize": 12, "color": "#383838"},
      "encoding": {"text": {"field": "theta", "type": "nominal"}}
    }
  ]
}
